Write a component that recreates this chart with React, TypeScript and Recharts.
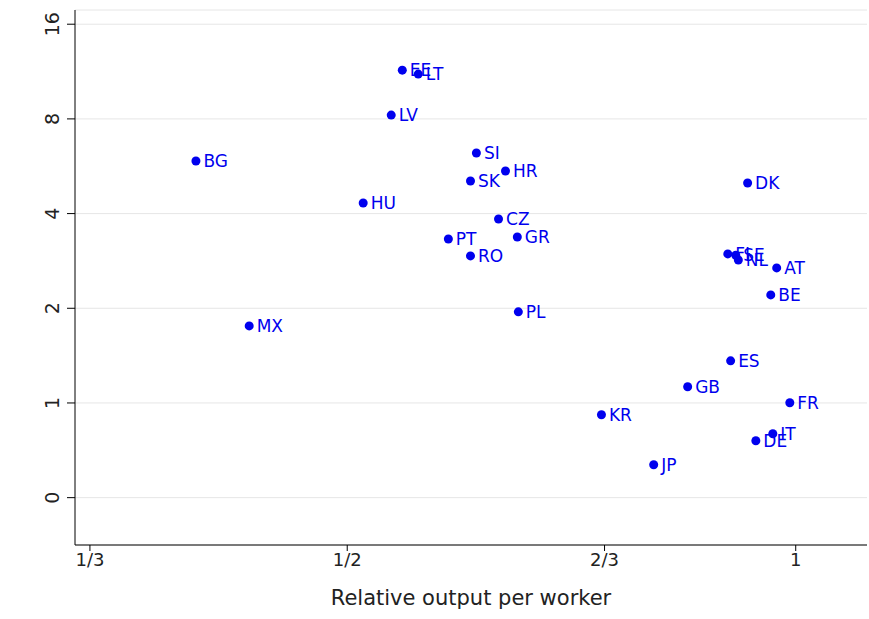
import { ScatterChart, Scatter, XAxis, YAxis, CartesianGrid, LabelList } from "recharts";

// x in axis units: 1/3 -> 0, 1/2 -> 1, 2/3 -> 2, 1 -> 2.743
// y in axis units: 0 -> 0, 1 -> 1, 2 -> 2, 4 -> 3, 8 -> 4, 16 -> 5
const codes = ["EE","LT","LV","BG","SI","HR","SK","DK","HU","CZ","PT","GR","RO","FI","SE","NL","AT","BE","PL","MX","ES","GB","FR","KR","IT","DE","JP"];
const xs = [1.214,1.276,1.171,0.412,1.502,1.615,1.479,2.556,1.062,1.588,1.393,1.661,1.479,2.479,2.51,2.52,2.669,2.646,1.665,0.619,2.49,2.323,2.72,1.988,2.654,2.588,2.191];
const ys = [4.515,4.473,4.04,3.555,3.64,3.45,3.344,3.323,3.112,2.943,2.732,2.753,2.553,2.574,2.56,2.51,2.426,2.141,1.962,1.814,1.445,1.171,1.002,0.876,0.675,0.601,0.348];
const xTicks = [0, 1, 2, 2.743];
const xTickLabels = ["1/3", "1/2", "2/3", "1"];
const yTicks = [0, 1, 2, 3, 4, 5];
const yTickLabels = ["0", "1", "2", "4", "8", "16"];

const data = codes.map((c, i) => ({ name: c, x: xs[i], y: ys[i] }));

function YTick(props: any) {
  const { x, y, payload } = props;
  return (
    <text x={x - 6} y={y} transform={`rotate(-90 ${x - 6} ${y})`} textAnchor="middle" fill="#222" fontSize={19}>
      {yTickLabels[yTicks.indexOf(payload.value)]}
    </text>
  );
}

export default function App() {
  document.body.style.margin = "0";
  return (
    <div style={{ fontFamily: "DejaVu Sans, sans-serif", background: "#fff" }}>
      <ScatterChart width={869} height={619} margin={{ top: 10, right: 2, bottom: 0, left: 0 }}>
        <CartesianGrid horizontal vertical={false} stroke="#e6e6e6" />
        <XAxis
          type="number"
          dataKey="x"
          domain={[-0.058, 3.02]}
          ticks={xTicks}
          tickFormatter={(v: number) => xTickLabels[xTicks.indexOf(v)]}
          height={74}
          stroke="#000"
          tick={{ fill: "#222", fontSize: 18 }}
          tickSize={6}
          label={{ value: "Relative output per worker", position: "insideBottom", offset: 14, fill: "#222", fontSize: 21 }}
        />
        <YAxis
          type="number"
          dataKey="y"
          domain={[-0.5, 5.15]}
          ticks={yTicks}
          width={75}
          stroke="#000"
          tickSize={8}
          tick={<YTick />}
        />
        <Scatter data={data} fill="#0000ee" isAnimationActive={false} shape={(p: any) => <circle cx={p.cx} cy={p.cy} r={4.5} fill="#0000ee" />}>
          <LabelList dataKey="name" position="right" offset={3} fill="#0000ee" fontSize={17} />
        </Scatter>
      </ScatterChart>
    </div>
  );
}
